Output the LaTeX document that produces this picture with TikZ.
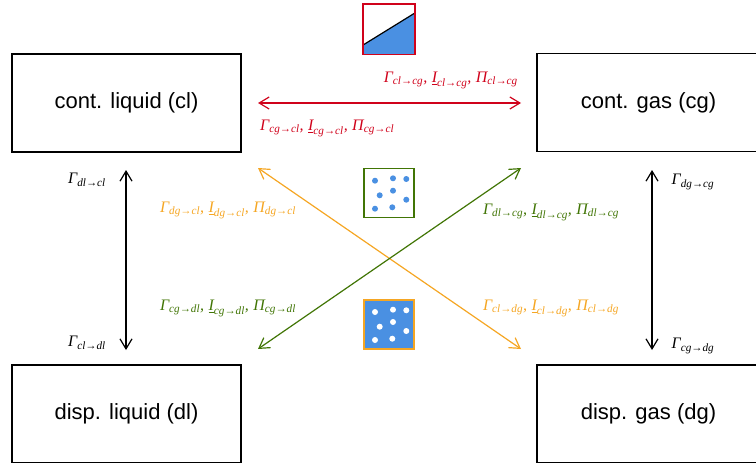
\documentclass[tikz,border=0pt]{standalone}
\usepackage{amsmath}
\usepackage{fontspec}
\setmainfont{Liberation Sans}
\newfontfamily\libs{Liberation Serif}
\usetikzlibrary{arrows.meta}
\definecolor{cred}{HTML}{D0021B}
\definecolor{corange}{HTML}{F5A623}
\definecolor{cgreen}{HTML}{417505}
\definecolor{cblue}{HTML}{4A90E2}
\newcommand{\tm}[1]{\text{\libs\itshape #1}}
\newcommand{\trio}[1]{$\tm{Γ}_{\tm{#1}}\tm{,}\ \underline{\tm{I}}_{\tm{#1}}\tm{,}\ \tm{Π}_{\tm{#1}}$}
\newcommand{\gam}[1]{$\tm{Γ}_{\tm{#1}}$}
\begin{document}
\begin{tikzpicture}[x=1pt,y=-1pt,
  phase/.style={draw=black, line width=1.3pt, inner sep=0pt,
    font=\fontsize{22}{26}\selectfont},
  lab/.style={inner sep=0pt, font=\fontsize{16}{18}\selectfont},
  flow/.style={line width=1.2pt, {Straight Barb[length=10pt,width=12pt]}-{Straight Barb[length=10pt,width=12pt]}},
  icon/.style={line width=1.8pt, minimum width=50pt, minimum height=49pt, inner sep=0pt},
  dot/.style={circle, inner sep=0pt, minimum size=6pt}
]
\useasboundingbox (0,0) rectangle (756,463);

% phase boxes
\node[phase, minimum width=229pt, minimum height=98pt] (cl) at (126.5,103) {cont. liquid (cl)};
\node[phase, minimum width=223pt, minimum height=98pt] (cg) at (648.5,102.5) {cont. gas (cg)};
\node[phase, minimum width=229pt, minimum height=98pt] (dl) at (126.5,414) {disp. liquid (dl)};
\node[phase, minimum width=223pt, minimum height=98pt] (dg) at (648.5,414) {disp. gas (dg)};

% connector end points
\coordinate (rL) at (258,103);
\coordinate (rR) at (521,103);
\coordinate (oA) at (258,168);
\coordinate (oB) at (521,349);
\coordinate (gA) at (521,168);
\coordinate (gB) at (258,349);
\coordinate (vL1) at (126,170);
\coordinate (vL2) at (126,350);
\coordinate (vR1) at (652,170);
\coordinate (vR2) at (652,350);

% connectors
\draw[flow, cred] (rL) -- (rR);
\draw[flow, corange] (oA) -- (oB);
\draw[flow, cgreen] (gA) -- (gB);
\draw[flow, black] (vL1) -- (vL2);
\draw[flow, black] (vR1) -- (vR2);

% labels
\node[lab, cred, anchor=east] (l1) at (518,80) {\trio{cl→cg}};
\node[lab, cred, anchor=west] (l2) at (260,128) {\trio{cg→cl}};
\node[lab, corange] (l3) at (228,210) {\trio{dg→cl}};
\node[lab, cgreen] (l4) at (551,212) {\trio{dl→cg}};
\node[lab, cgreen] (l5) at (228,308) {\trio{cg→dl}};
\node[lab, corange] (l6) at (551,308) {\trio{cl→dg}};
\node[lab] (l7) at (87,180) {\gam{dl→cl}};
\node[lab] (l8) at (87,343) {\gam{cl→dl}};
\node[lab] (l9) at (693,182) {\gam{dg→cg}};
\node[lab] (l10) at (693,346) {\gam{cg→dg}};

% icon: stratified (red)
\node[icon] (ir) at (389,29) {};
\fill[cblue] (ir.north west |- 0,45) -- (ir.north east |- 0,13) -- (ir.south east) -- (ir.south west) -- cycle;
\draw[line width=1.2pt, black] (ir.north west |- 0,45) -- (ir.north east |- 0,13);
\draw[line width=1.8pt, cred] (ir.north west) rectangle (ir.south east);

% icon: dispersed droplets in gas (green)
\node[icon, draw=cgreen] (ig) at (389,193) {};
\foreach \p/\q in {375/180.7, 393/178.3, 406.3/179, 379.7/195.3, 393/190.7, 406.3/199.7, 375/208.7, 392.3/207.3}
  \node[dot, fill=cblue] at (\p,\q) {};

% icon: dispersed bubbles in liquid (orange)
\node[icon, draw=corange, fill=cblue] (io) at (389,324.5) {};
\foreach \p/\q in {375/312, 393/309.7, 406.3/310.3, 379.7/326.7, 393/322, 406.3/331, 375/340, 392.3/338.7}
  \node[dot, fill=white] at (\p,\q) {};
\end{tikzpicture}
\end{document}
